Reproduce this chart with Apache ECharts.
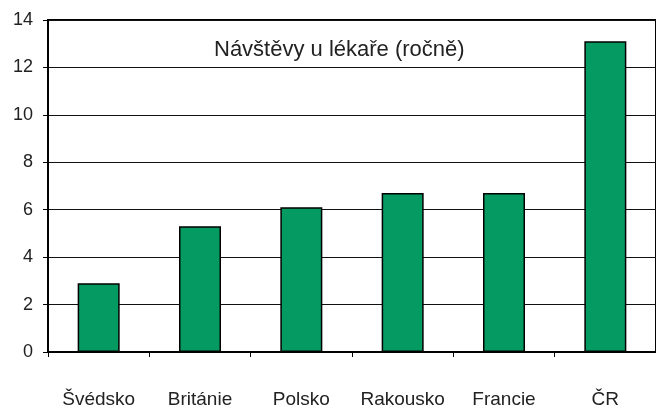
<!DOCTYPE html>
<html>
<head>
<meta charset="utf-8">
<script src="https://cdn.jsdelivr.net/npm/echarts@6/dist/echarts.min.js"></script>
<style>html,body{margin:0;padding:0;background:#fff;}#c{width:656px;height:411px;}</style>
</head>
<body>
<div id="c"></div>
<script>
const categories = ["Švédsko", "Británie", "Polsko", "Rakousko", "Francie", "ČR"];
const visits = [2.9, 5.3, 6.1, 6.7, 6.7, 13.1];
const chartTitle = "Návštěvy u lékaře (ročně)";
const yMin = 0, yMax = 14, yStep = 2;

const chart = echarts.init(document.getElementById('c'), null, {renderer: 'canvas'});
const font = '"Liberation Sans", Arial, Helvetica, sans-serif';
chart.setOption({
  animation: false,
  backgroundColor: '#fff',
  title: {
    text: chartTitle,
    left: 209, top: 34,
    textStyle: {fontFamily: font, fontSize: 22, fontWeight: 'normal', color: '#222'}
  },
  grid: {left: 48, top: 20, width: 616, height: 332, show: true, borderColor: '#000', borderWidth: 2, backgroundColor: 'transparent'},
  xAxis: {
    type: 'category',
    data: categories,
    axisLine: {lineStyle: {color: '#000', width: 2}},
    axisTick: {show: true, length: 5, interval: 0, lineStyle: {color: '#000', width: 1}},
    axisLabel: {fontFamily: font, fontSize: 19, color: '#222', margin: 38, interval: 0, hideOverlap: false}
  },
  yAxis: {
    type: 'value',
    min: yMin, max: yMax, interval: yStep,
    axisLine: {show: true, lineStyle: {color: '#000', width: 2}},
    axisTick: {show: true, length: 5, lineStyle: {color: '#000', width: 1}},
    axisLabel: {fontFamily: font, fontSize: 18, color: '#222', margin: 15},
    splitLine: {show: true, lineStyle: {color: '#111', width: 1}}
  },
  series: [{
    type: 'bar',
    data: visits,
    barWidth: 42,
    itemStyle: {color: '#069a63', borderColor: '#000', borderWidth: 1.5}
  }]
});
</script>
</body>
</html>
